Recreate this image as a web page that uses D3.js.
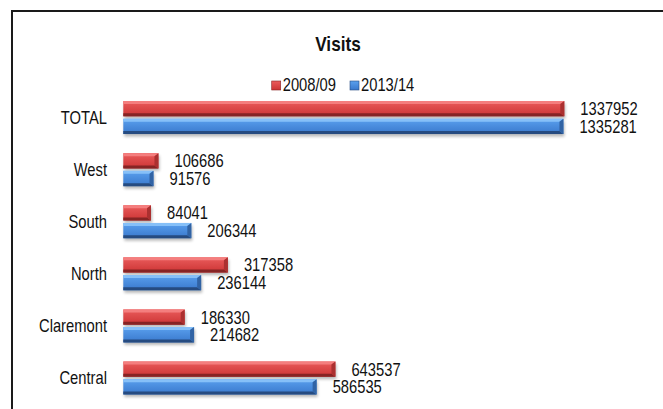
<!DOCTYPE html>
<html><head><meta charset="utf-8">
<script src="https://cdn.jsdelivr.net/npm/d3@7"></script>
<style>
html,body{margin:0;padding:0;background:#fff;}
svg{display:block;}
text{font-family:"Liberation Sans",Arial,sans-serif;fill:#111;}
</style></head>
<body>
<script>
const categories = ["TOTAL","West","South","North","Claremont","Central"];
const seriesNames = ["2008/09","2013/14"];
const visits2008 = [1337952,106686,84041,317358,186330,643537];
const visits2013 = [1335281,91576,206344,236144,214682,586535];
const title = "Visits";

const W = 663, H = 409;
const svg = d3.select("body").append("svg").attr("width",W).attr("height",H);
const defs = svg.append("defs");
const SX = 0.82;

function txt(g, x, y, s, opts={}) {
  return g.append("text")
    .attr("transform", `translate(${x},${y}) scale(${SX},1)`)
    .attr("text-anchor", opts.anchor || "start")
    .style("font-size", (opts.size||18)+"px")
    .style("font-weight", opts.weight||"normal")
    .text(s);
}

// frame
svg.append("rect").attr("x",12).attr("y",11).attr("width",W+20).attr("height",H+20)
  .attr("fill","none").attr("stroke","#1a1a1a").attr("stroke-width",2);

const colors = [
  {top:"#f47e7e", face0:"#ea5c5c", face1:"#cc3434", bot:"#862424", right:"#ab3030"},
  {top:"#86c0f8", face0:"#5aa0ee", face1:"#3978cc", bot:"#264b80", right:"#3163a4"}
];
colors.forEach((c,i)=>{
  const g = defs.append("linearGradient").attr("id","g"+i).attr("x1",0).attr("y1",0).attr("x2",0).attr("y2",1);
  g.append("stop").attr("offset","0%").attr("stop-color",c.face0);
  g.append("stop").attr("offset","100%").attr("stop-color",c.face1);
});
const f = defs.append("filter").attr("id","sh").attr("x","-10%").attr("y","-50%").attr("width","120%").attr("height","200%");
f.append("feGaussianBlur").attr("stdDeviation",1.6);

const x = d3.scaleLinear().domain([0,1400000]).range([123.3, 123.3 + 441*1400000/1337952]);
const y = d3.scaleBand().domain(categories).range([91.5,404]);
const sub = d3.scaleBand().domain([0,1]).range([-16.5,16.5]).paddingInner(0.14);

// title
txt(svg, 338, 51, title, {anchor:"middle", size:21, weight:"bold"});

// legend
const leg = svg.append("g");
let lx = 0;
seriesNames.forEach((n,i)=>{
  const gi = leg.append("g").attr("transform",`translate(${lx},0)`);
  gi.append("rect").attr("x",0).attr("y",-10).attr("width",9).attr("height",9).attr("fill",`url(#g${i})`)
    .attr("stroke",colors[i].bot).attr("stroke-width",0.6);
  const t = txt(gi, 11, 0, n, {size:18});
  const w = t.node().getComputedTextLength()*SX;
  lx += 11 + w + 14;
});
const legW = lx - 14;
leg.attr("transform",`translate(${343 - legW/2},91)`);

const data = categories.map((c,i)=>({cat:c, vals:[visits2008[i], visits2013[i]]}));

const rows = svg.append("g").selectAll("g").data(data).join("g")
  .attr("transform", d=>`translate(0,${y(d.cat)+y.bandwidth()/2})`);

rows.each(function(d){
  txt(d3.select(this), 107, 6.5, d.cat, {anchor:"end", size:18});
});

rows.each(function(d){
  const g = d3.select(this);
  d.vals.forEach((v,i)=>{
    const c = colors[i];
    const x0 = x(0), x1 = x(v), y0 = sub(i), y1 = sub(i)+sub.bandwidth();
    const b = 3, br = 4;
    g.append("rect").attr("x",x0+1).attr("y",y0+2.5).attr("width",Math.max(0,x1-x0)).attr("height",y1-y0)
      .attr("fill","#000").attr("opacity",0.28).attr("filter","url(#sh)");
    g.append("rect").attr("x",x0).attr("y",y0).attr("width",x1-x0).attr("height",y1-y0).attr("fill",`url(#g${i})`);
    g.append("polygon").attr("points",[[x0,y0],[x1,y0],[x1-br,y0+b],[x0,y0+b]].join(" ")).attr("fill",c.top);
    g.append("polygon").attr("points",[[x0,y1],[x1,y1],[x1-br,y1-b],[x0,y1-b]].join(" ")).attr("fill",c.bot);
    g.append("polygon").attr("points",[[x1,y0],[x1,y1],[x1-br,y1-b],[x1-br,y0+b]].join(" ")).attr("fill",c.right);
    txt(g, x1+16, (y0+y1)/2+6.5, String(v), {anchor:"start", size:18});
  });
});
</script>
</body></html>
